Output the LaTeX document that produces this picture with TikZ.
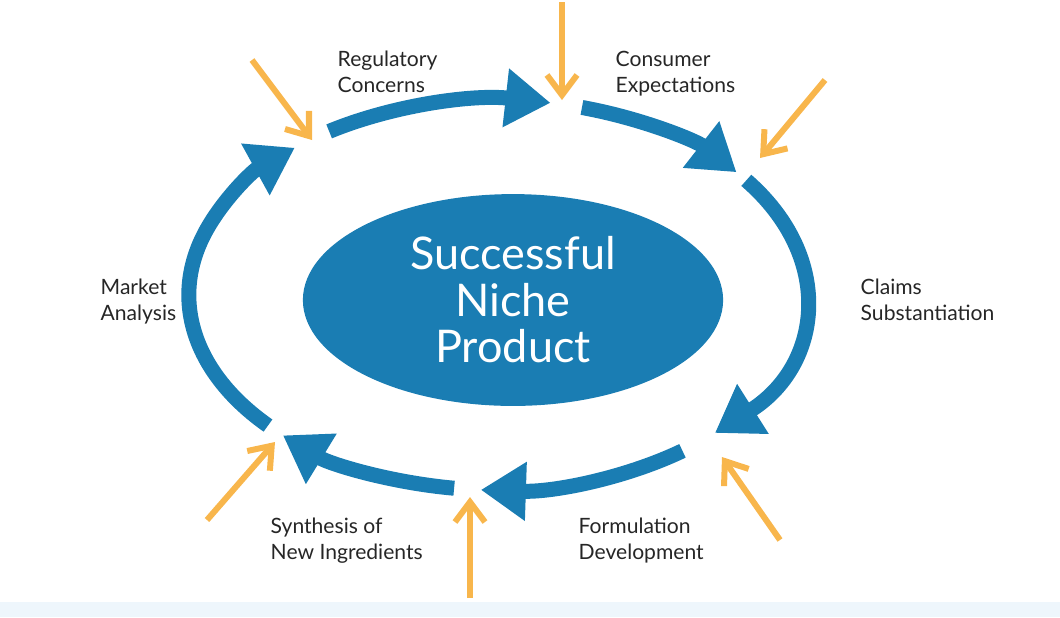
\documentclass[tikz,border=0pt]{standalone}
\usepackage{fontspec}
\setmainfont{Lato}
\usepackage{tikz}
\usetikzlibrary{arrows.meta, positioning, shapes.geometric, calc}
\definecolor{cycleblue}{HTML}{1A7DB3}
\definecolor{inorange}{HTML}{F8B64C}
\definecolor{stripblue}{HTML}{EEF6FC}

\begin{document}
\begin{tikzpicture}[x=0.01cm, y=-0.01cm]

\tikzstyle{label} = [align=left, anchor=north west, font=\fontsize{6}{7.4}\selectfont, text=black!85, inner sep=0pt]
\tikzstyle{cycle} = [draw=cycleblue, line width=0.15cm, -{Triangle[width=0.56cm, length=0.45cm]}]
\tikzstyle{input} = [draw=inorange, line width=0.06cm, -{Straight Barb[width=0.3cm, length=0.2cm, line width=0.06cm]}]

% frame
\useasboundingbox (0,0) rectangle (1060,617);
\fill[stripblue] (0,602) rectangle (1060,617);

% centre
\node (core)[ellipse, fill=cycleblue, minimum width=4.2cm, minimum height=2.1cm, text=white, align=center,
    font=\fontsize{12.8}{13.2}\selectfont] at (513,300) {Successful\\Niche\\Product};

% cycle
\coordinate (mid) at (497,295);
\foreach \a/\b in {222/131, 123/80, 74/39, 36/-45, -53/-93, -98/-134}
  \draw[cycle] ($(mid)+(\a:3.08cm and 1.95cm)$) arc[start angle=\a, end angle=\b, x radius=3.08cm, y radius=1.95cm];

% inputs
\coordinate (in1) at (252,60);   \coordinate (to1) at (312,140);
\coordinate (in2) at (562,2);    \coordinate (to2) at (562,100);
\coordinate (in3) at (825,80);   \coordinate (to3) at (760,158);
\coordinate (in4) at (207,520);  \coordinate (to4) at (275,442);
\coordinate (in5) at (470,598);  \coordinate (to5) at (470,497);
\coordinate (in6) at (780,540);  \coordinate (to6) at (722,457);
\foreach \i in {1,...,6}
  \draw[input] (in\i) -- (to\i);

% labels
\node (reg)[label] at (337,50) {Regulatory\\Concerns};
\node (cons)[label] at (615,50) {Consumer\\Expectations};
\node (claims)[label] at (860,278) {Claims\\Substantiation};
\node (market)[label] at (100,278) {Market\\Analysis};
\node (form)[label] at (578,517) {Formulation\\Development};
\node (synth)[label] at (270,517) {Synthesis of\\New Ingredients};

\end{tikzpicture}
\end{document}
